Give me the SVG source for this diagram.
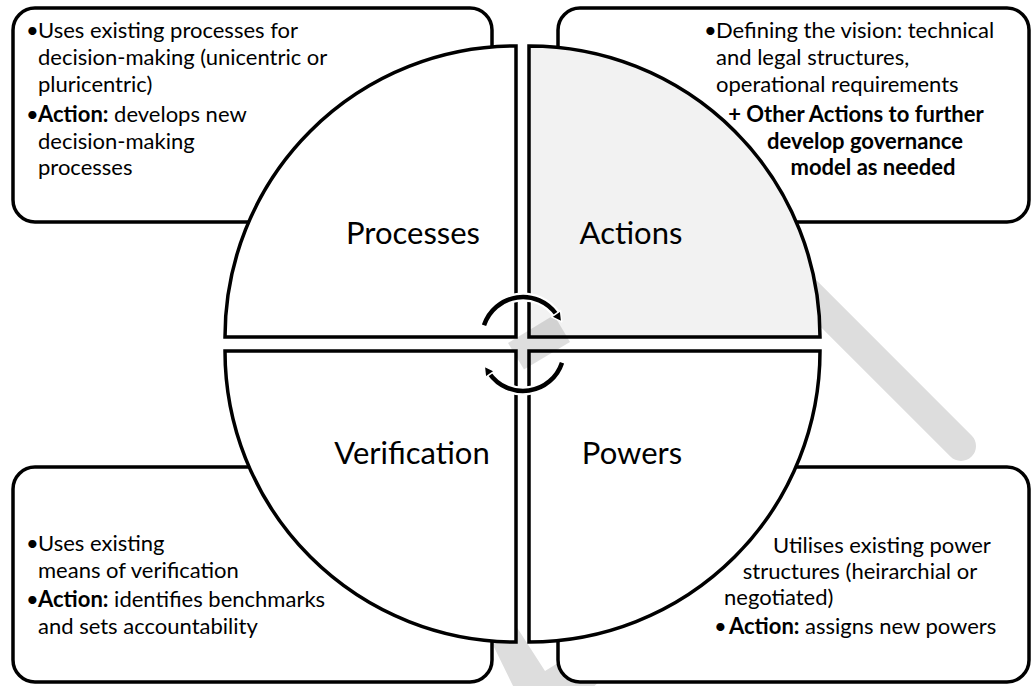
<svg xmlns="http://www.w3.org/2000/svg" width="1032" height="686" viewBox="0 0 1032 686">
<style>
.box{fill:#fff;stroke:#000;stroke-width:3.5}
.q{stroke:#000;stroke-width:3.5;stroke-linejoin:miter}
.t{font-family:Lato,"Liberation Sans",sans-serif;font-size:22px;fill:#000}
.b{font-weight:bold}
.lbl{font-family:Lato,"Liberation Sans",sans-serif;font-size:31px;fill:#000;text-anchor:middle}
.mid{text-anchor:middle}
.arc{fill:none;stroke:#000;stroke-width:4.5}
.halo{fill:none;stroke:#fff;stroke-width:9}
</style>
<defs>
<marker id="ah" markerUnits="userSpaceOnUse" markerWidth="24" markerHeight="24" viewBox="-6 -12 24 24" refX="0" refY="0" orient="auto" overflow="visible">
<path d="M-1,-5.5 L9,0 L-1,5.5 Z" fill="#000" stroke="#fff" stroke-width="1.5" stroke-linejoin="round"/>
</marker>
</defs>
<rect width="1032" height="686" fill="#fff"/>
<g id="background">
<line x1="720" y1="205" x2="961" y2="446" stroke="#dddddd" stroke-width="30" stroke-linecap="round"/>
<polygon points="470,598 515,690 590,690 629,655 613,629 545,671 498,598" fill="#dddddd"/>
</g>
<g id="box-processes">
<rect class="box" x="13" y="8" width="479" height="214" rx="22"/>
<text class="t"><tspan x="26" y="38">•</tspan><tspan x="38" y="38">Uses existing processes for</tspan></text>
<text class="t" x="38" y="65">decision-making (unicentric or</text>
<text class="t" x="38" y="92">pluricentric)</text>
<text class="t"><tspan x="26" y="122">•</tspan><tspan x="38" y="122" class="b">Action:</tspan><tspan> develops new</tspan></text>
<text class="t" x="38" y="149">decision-making</text>
<text class="t" x="38" y="175">processes</text>
</g>
<g id="box-actions">
<rect class="box" x="558" y="8" width="471" height="214" rx="22"/>
<text class="t"><tspan x="704" y="38">•</tspan><tspan x="716" y="38">Defining the vision: technical</tspan></text>
<text class="t" x="716" y="65">and legal structures,</text>
<text class="t" x="716" y="92">operational requirements</text>
<text class="t b mid" x="856" y="122">+ Other Actions to further</text>
<text class="t b mid" x="865" y="149">develop governance</text>
<text class="t b mid" x="873" y="175">model as needed</text>
</g>
<g id="box-verification">
<rect class="box" x="13" y="467" width="479" height="215" rx="22"/>
<text class="t"><tspan x="26" y="551">•</tspan><tspan x="38" y="551">Uses existing</tspan></text>
<text class="t" x="38" y="578">means of verification</text>
<text class="t"><tspan x="26" y="607">•</tspan><tspan x="38" y="607" class="b">Action:</tspan><tspan> identifies benchmarks</tspan></text>
<text class="t" x="38" y="634">and sets accountability</text>
</g>
<g id="box-powers">
<rect class="box" x="558" y="467" width="471" height="215" rx="22"/>
<text class="t mid" x="882" y="553">Utilises existing power</text>
<text class="t mid" x="860" y="579">structures (heirarchial or</text>
<text class="t" x="724" y="605">negotiated)</text>
<text class="t"><tspan x="714" y="634">•</tspan><tspan x="729" y="634" class="b">Action:</tspan><tspan> assigns new powers</tspan></text>
</g>
<g id="q-processes">
<path class="q" fill="#fff" d="M516,337 L225,337 A291,291 0 0 1 516,46 Z"/>
<text class="lbl" x="413" y="244">Processes</text>
</g>
<g id="q-actions">
<path class="q" fill="#f2f2f2" d="M529,337 L529,46 A291,291 0 0 1 820,337 Z"/>
<text class="lbl" x="631" y="244">Actions</text>
</g>
<g id="q-verification">
<path class="q" fill="#fff" d="M516,351 L516,642 A291,291 0 0 1 225,351 Z"/>
<text class="lbl" x="412" y="464">Verification</text>
</g>
<g id="q-powers">
<path class="q" fill="#fff" d="M529,351 L820,351 A291,291 0 0 1 529,642 Z"/>
<text class="lbl" x="632" y="464">Powers</text>
</g>
<polygon id="center-shade" points="508,343 524,369.6 570,342 554,315" fill="#000" fill-opacity="0.13"/>
<g id="connectors">
<path class="halo" d="M484,325.3 A41,41 0 0 1 556.6,314.5"/>
<path class="halo" d="M562,362.7 A41,41 0 0 1 489.4,373.5"/>
<path class="arc" d="M484,325.3 A41,41 0 0 1 556.6,314.5" marker-end="url(#ah)"/>
<path class="arc" d="M562,362.7 A41,41 0 0 1 489.4,373.5" marker-end="url(#ah)"/>
</g>
</svg>
